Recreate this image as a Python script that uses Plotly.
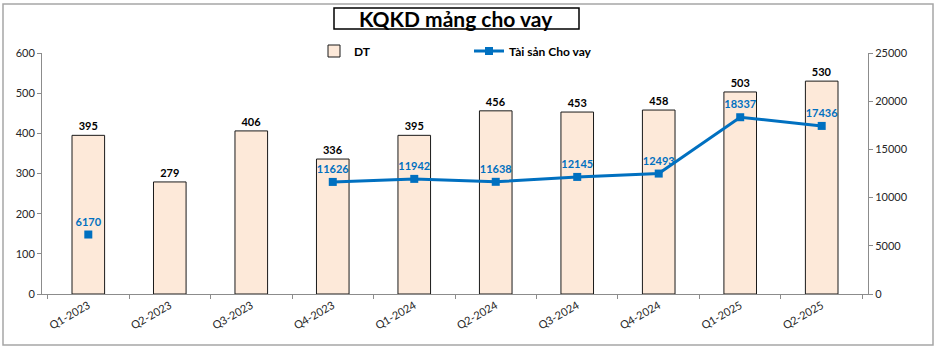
import plotly.graph_objects as go

quarters = ["Q1-2023", "Q2-2023", "Q3-2023", "Q4-2023", "Q1-2024", "Q2-2024",
            "Q3-2024", "Q4-2024", "Q1-2025", "Q2-2025"]
dt_values = [395, 279, 406, 336, 395, 456, 453, 458, 503, 530]
loan_assets = [6170, None, None, 11626, 11942, 11638, 12145, 12493, 18337, 17436]

W, H = 938, 351
L, R, T, B = 42, 70, 53, 57
pw, ph = W - L - R, H - T - B

def px(x):
    return (x - L) / pw

def py(y):
    return (H - B - y) / ph

FONT = "Lato"
BLUE = "#0070C0"

fig = go.Figure()
fig.add_trace(go.Bar(
    x=quarters, y=dt_values, name="DT", width=0.4,
    marker=dict(color="#FDE9D9", line=dict(color="#1a1a1a", width=1)),
    text=[str(v) for v in dt_values], textposition="outside",
    textfont=dict(family=FONT, size=11, color="#000000", weight="bold"),
    cliponaxis=False,
))
fig.add_trace(go.Scatter(
    x=quarters, y=loan_assets, name="Tài sản Cho vay", yaxis="y2",
    mode="lines+markers+text", connectgaps=False,
    line=dict(color=BLUE, width=3),
    marker=dict(symbol="square", size=8, color=BLUE),
    text=[("" if v is None else str(v)) for v in loan_assets],
    textposition="top center",
    textfont=dict(family=FONT, size=11, color=BLUE, weight="bold"),
    cliponaxis=False,
))

axis_common = dict(showgrid=False, zeroline=False, showline=True, linecolor="#8c8c8c",
                   linewidth=1, ticks="outside", ticklen=4, tickcolor="#8c8c8c",
                   tickfont=dict(family=FONT, size=11, color="#262626"))

fig.update_layout(
    width=W, height=H,
    margin=dict(l=L, r=R, t=T, b=B),
    paper_bgcolor="white", plot_bgcolor="white",
    showlegend=True,
    bargap=0.6,
    xaxis=dict(type="category", tickson="boundaries", tickangle=-30, **axis_common),
    yaxis=dict(range=[0, 600], dtick=100, tickformat="d", **axis_common),
    yaxis2=dict(range=[0, 25000], dtick=5000, tickformat="d", overlaying="y", side="right",
                **axis_common),
    legend=dict(orientation="h", x=px(314), y=py(51), xanchor="left", yanchor="middle",
                entrywidth=110, entrywidthmode="pixels",
                font=dict(family=FONT, size=12, color="#000000", weight="bold"),
                bgcolor="rgba(0,0,0,0)"),
    shapes=[
        dict(type="rect", xref="paper", yref="paper", x0=px(3), x1=px(933), y0=py(345), y1=py(4),
             line=dict(color="#a6a6a6", width=1.5), layer="below"),
        dict(type="rect", xref="paper", yref="paper", x0=px(334), x1=px(579), y0=py(29), y1=py(8),
             line=dict(color="#000000", width=1.5), fillcolor="white"),
    ],
    annotations=[
        dict(text="<b>KQKD mảng cho vay</b>", xref="paper", yref="paper", x=px(456), y=py(18),
             xanchor="center", yanchor="middle", showarrow=False,
             font=dict(family=FONT, size=21, color="#000000")),
    ],
)

fig.write_html("out.html")
